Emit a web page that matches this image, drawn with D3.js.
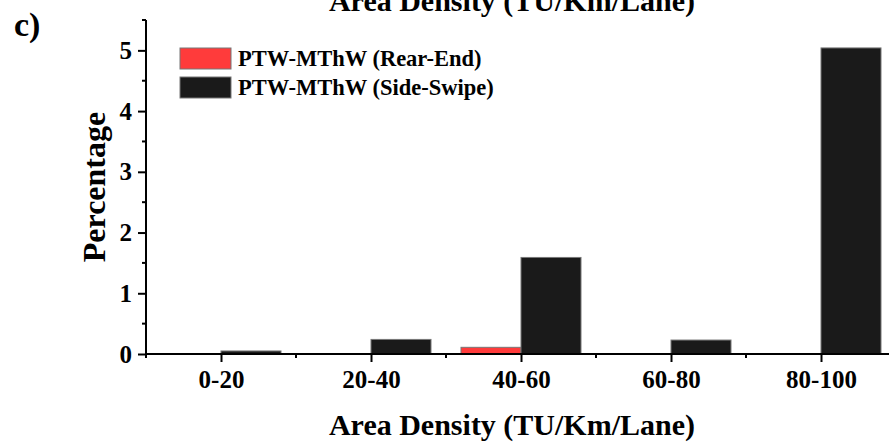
<!DOCTYPE html>
<html>
<head>
<meta charset="utf-8">
<script src="https://cdn.jsdelivr.net/npm/d3@7"></script>
<style>
  body { margin: 0; background: #fff; }
  svg { display: block; }
  text { font-family: "Liberation Serif", "Times New Roman", serif; font-weight: bold; fill: #000; }
</style>
</head>
<body>
<div id="chart"></div>
<script>

// categories and series values (percent)
var categories = ['0-20', '20-40', '40-60', '60-80', '80-100'];
var rearEnd = [0, 0, 0.11, 0, 0];
var sideSwipe = [0.05, 0.24, 1.59, 0.23, 5.04];
var seriesNames = ['PTW-MThW (Rear-End)', 'PTW-MThW (Side-Swipe)'];
var seriesColors = ['#ff3b3b', '#1a1a1a'];
var yTicks = [0, 1, 2, 3, 4, 5];

function drawChart(){

    var width = 889,
        height = 442;

    var svg = d3.select('#chart')
        .append('svg')
        .attr('width', width)
        .attr('height', height);

    //scales: categories sit at 1..n, axis runs from 0.5
    var x = d3.scaleLinear()
        .domain([0.5, categories.length + 0.5])
        .range([146, 896]);

    var y = d3.scaleLinear()
        .domain([0, 5.5])
        .range([354, 20]);

    var barW = 0.4;

    //bars, red left of the tick, black right of it
    var bars = svg.append('g');
    [rearEnd, sideSwipe].forEach(function(vals, s){
        bars.selectAll('.s' + s)
            .data(vals)
            .enter()
            .append('rect')
            .attr('class', 's' + s)
            .attr('x', function(d, i){ return s === 0 ? x(i + 1 - barW) : x(i + 1); })
            .attr('width', x(barW) - x(0))
            .attr('y', function(d){ return y(d); })
            .attr('height', function(d){ return y(0) - y(d); })
            .attr('fill', seriesColors[s])
            .attr('stroke', function(d){ return d > 0 ? '#777' : 'none'; })
            .attr('stroke-width', 1);
    });

    //x axis
    var xMajor = d3.range(1, categories.length + 1);
    var xMinor = d3.range(0.5, categories.length + 1, 1);

    var xAxis = svg.append('g')
        .attr('transform', 'translate(0,' + y(0) + ')')
        .call(d3.axisBottom(x)
            .tickValues(xMajor)
            .tickSize(8)
            .tickFormat(function(d){ return categories[d - 1]; }));
    xAxis.attr('font-family', null).attr('font-size', null);
    xAxis.select('.domain').attr('d', 'M' + x(0.5) + ',0H' + width).attr('stroke-width', 2);
    xAxis.selectAll('.tick line').attr('stroke-width', 2);
    xAxis.selectAll('.tick text')
        .attr('y', 34)
        .attr('dy', 0)
        .style('font-size', '25px');

    svg.append('g')
        .attr('transform', 'translate(0,' + y(0) + ')')
        .selectAll('line')
        .data(xMinor)
        .enter()
        .append('line')
        .attr('x1', function(d){ return x(d); })
        .attr('x2', function(d){ return x(d); })
        .attr('y1', 0)
        .attr('y2', 4)
        .attr('stroke', '#000')
        .attr('stroke-width', 2);

    //y axis
    var yAxis = svg.append('g')
        .attr('transform', 'translate(' + x(0.5) + ',0)')
        .call(d3.axisLeft(y)
            .tickValues(yTicks)
            .tickSize(8)
            .tickPadding(6)
            .tickFormat(d3.format('d')));
    yAxis.attr('font-family', null).attr('font-size', null);
    yAxis.select('.domain').attr('d', 'M0,' + y(0) + 'V' + y(5.5)).attr('stroke-width', 2);
    yAxis.selectAll('.tick line').attr('stroke-width', 2);
    yAxis.selectAll('.tick text')
        .style('font-size', '25px');

    svg.append('g')
        .attr('transform', 'translate(' + x(0.5) + ',0)')
        .selectAll('line')
        .data(d3.range(0.5, 5.6, 1))
        .enter()
        .append('line')
        .attr('x1', -4)
        .attr('x2', 0)
        .attr('y1', function(d){ return y(d); })
        .attr('y2', function(d){ return y(d); })
        .attr('stroke', '#000')
        .attr('stroke-width', 2);

    //titles
    svg.append('text')
        .attr('x', 512)
        .attr('y', 11)
        .attr('text-anchor', 'middle')
        .style('font-size', '30px')
        .text('Area Density (TU/Km/Lane)');

    svg.append('text')
        .attr('x', 512)
        .attr('y', 435)
        .attr('text-anchor', 'middle')
        .style('font-size', '30px')
        .text('Area Density (TU/Km/Lane)');

    svg.append('text')
        .attr('transform', 'translate(105,187) rotate(-90)')
        .attr('text-anchor', 'middle')
        .style('font-size', '32px')
        .text('Percentage');

    svg.append('text')
        .attr('x', 14)
        .attr('y', 36)
        .style('font-size', '34px')
        .text('c)');

    //legend
    var legend = svg.append('g')
        .selectAll('g')
        .data(seriesNames)
        .enter()
        .append('g')
        .attr('transform', function(d, i){ return 'translate(180,' + (48 + i * 29) + ')'; });

    legend.append('rect')
        .attr('width', 51)
        .attr('height', 21)
        .attr('fill', function(d, i){ return seriesColors[i]; })
        .attr('stroke', '#777')
        .attr('stroke-width', 1);

    legend.append('text')
        .attr('x', 58)
        .attr('y', 18)
        .style('font-size', '22.5px')
        .text(function(d){ return d; });
}

window.onload = drawChart();
</script>
</body>
</html>
